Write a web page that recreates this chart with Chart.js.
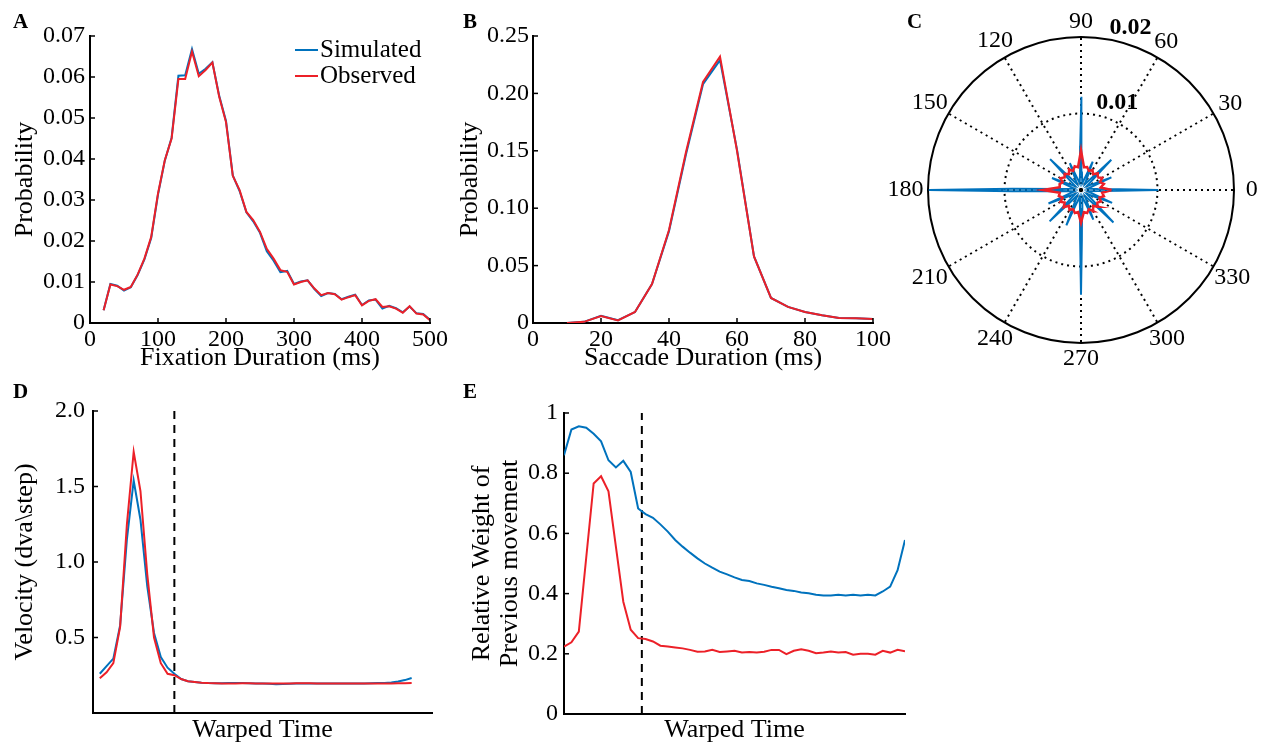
<!DOCTYPE html>
<html>
<head>
<meta charset="utf-8">
<script src="https://cdn.jsdelivr.net/npm/chart.js@4.4.1/dist/chart.umd.min.js"></script>
<style>
  body { margin: 0; background: #fff; }
  #wrap { position: relative; width: 1269px; height: 747px; overflow: hidden; }
  canvas { position: absolute; }
  .tag { position: absolute; font: bold 21px 'Liberation Serif', serif; line-height: 1; }
</style>
</head>
<body>
<div id="wrap">
  <canvas id="cA" width="450" height="372" style="left:0;top:0"></canvas>
  <canvas id="cB" width="450" height="372" style="left:450px;top:0"></canvas>
  <canvas id="cC" width="389" height="370" style="left:880px;top:0"></canvas>
  <canvas id="cD" width="450" height="377" style="left:0;top:370px"></canvas>
  <canvas id="cE" width="469" height="377" style="left:450px;top:370px"></canvas>
  <div class="tag" style="left:13px;top:11px">A</div>
  <div class="tag" style="left:463px;top:11px">B</div>
  <div class="tag" style="left:907px;top:11px">C</div>
  <div class="tag" style="left:13px;top:381px">D</div>
  <div class="tag" style="left:463px;top:381px">E</div>
</div>
<script>
// A: fixation durations
const fixX = [20,30,40,50,60,70,80,90,100,110,120,130,140,150,160,170,180,190,200,210,220,230,240,250,260,270,280,290,300,310,320,330,340,350,360,370,380,390,400,410,420,430,440,450,460,470,480,490,500];
const fixSim = [0.0031,0.0095,0.0091,0.0079,0.0087,0.0117,0.0155,0.0207,0.0313,0.0396,0.0452,0.0603,0.0604,0.0668,0.0608,0.0620,0.0636,0.0554,0.0493,0.0360,0.0322,0.0270,0.0248,0.0220,0.0175,0.0152,0.0124,0.0127,0.0095,0.0101,0.0104,0.0083,0.0066,0.0073,0.0071,0.0058,0.0064,0.0069,0.0044,0.0055,0.0057,0.0035,0.0042,0.0036,0.0026,0.0040,0.0024,0.0022,0.0008];
const fixObs = [0.0031,0.0094,0.0090,0.0081,0.0088,0.0118,0.0157,0.0210,0.0316,0.0397,0.0450,0.0595,0.0595,0.0662,0.0602,0.0617,0.0635,0.0552,0.0490,0.0359,0.0324,0.0271,0.0251,0.0222,0.0181,0.0157,0.0129,0.0125,0.0094,0.0100,0.0104,0.0084,0.0068,0.0073,0.0070,0.0057,0.0063,0.0068,0.0043,0.0054,0.0058,0.0039,0.0041,0.0035,0.0025,0.0041,0.0023,0.0021,0.0007];

// B: saccade durations
const sacX = [10,15,20,25,30,35,40,45,50,55,60,65,70,75,80,85,90,95,100];
const sacSim = [0.000,0.001,0.0062,0.0024,0.0095,0.034,0.080,0.147,0.208,0.229,0.151,0.058,0.0218,0.014,0.0096,0.0067,0.0044,0.0041,0.0035];
const sacObs = [0.000,0.001,0.0060,0.0023,0.0096,0.034,0.081,0.149,0.210,0.232,0.150,0.058,0.0218,0.014,0.0096,0.0067,0.0044,0.0041,0.0035];

// C: movement direction (degrees, probability)
const dirSimDeg = [0,1,3,11,19.5, 22.5,25.5,34,41.5, 45,48.5,56,64.5, 67.5,70.5,79,87,89, 90,91,93,101,109.5, 112.5,115.5,124,131.5, 135,138.5,146,154.5, 157.5,160.5,169,177,179, 180,181,183,191,199.5, 202.5,205.5,214,221.5, 225,228.5,236,244.5, 247.5,250.5,259,267,269, 270,271,273,281,289.5, 292.5,295.5,304,311.5, 315,318.5,326,334.5, 337.5,340.5,349,357,359];
const dirSimR = [0.0101,0.0050,0.0022,0.0009,0.0021, 0.0043,0.0021,0.0009,0.0022, 0.0056,0.0022,0.0009,0.0021, 0.0040,0.0021,0.0009,0.0023,0.0058, 0.0122,0.0058,0.0023,0.0009,0.0021, 0.0038,0.0021,0.0009,0.0022, 0.0057,0.0022,0.0009,0.0021, 0.0041,0.0021,0.0009,0.0026,0.0090, 0.0199,0.0090,0.0026,0.0009,0.0022, 0.0046,0.0022,0.0009,0.0022, 0.0058,0.0022,0.0009,0.0022, 0.0050,0.0022,0.0009,0.0025,0.0064, 0.0137,0.0064,0.0025,0.0009,0.0021, 0.0042,0.0021,0.0009,0.0022, 0.0060,0.0022,0.0009,0.0022, 0.0044,0.0022,0.0009,0.0023,0.0050];
const dirObsDeg = [0,7.5,15,22.5,30,37.5,45,52.5,60,67.5,75,82.5,90,97.5,105,112.5,120,127.5,135,142.5,150,157.5,165,172.5,180,187.5,195,202.5,210,217.5,225,232.5,240,247.5,255,262.5,270,277.5,285,292.5,300,307.5,315,322.5,330,337.5,345,352.5];
const dirObsR = [0.0040,0.0026,0.0031,0.0027,0.0032,0.0027,0.0031,0.0026,0.0030,0.0027,0.0031,0.0030,0.0052,0.0030,0.0032,0.0027,0.0031,0.0026,0.0030,0.0027,0.0031,0.0026,0.0029,0.0028,0.0050,0.0028,0.0030,0.0026,0.0031,0.0027,0.0032,0.0026,0.0030,0.0027,0.0031,0.0029,0.0043,0.0029,0.0031,0.0027,0.0032,0.0026,0.0031,0.0027,0.0030,0.0026,0.0031,0.0028];
const polarSpokes = [0,30,60,90,120,150,180,210,240,270,300,330];
const polarRings = [0.01, 0.02];

// D: velocity over warped time
const velSim = [0.26,0.31,0.36,0.58,1.15,1.54,1.28,0.84,0.53,0.37,0.30,0.26,0.225,0.21,0.205,0.200,0.198,0.197,0.197,0.198,0.199,0.198,0.197,0.196,0.195,0.193,0.190,0.192,0.194,0.195,0.195,0.195,0.196,0.196,0.196,0.196,0.196,0.196,0.196,0.196,0.197,0.198,0.199,0.202,0.208,0.218,0.232];
const velObs = [0.23,0.27,0.33,0.57,1.25,1.73,1.47,0.92,0.50,0.33,0.26,0.25,0.225,0.21,0.205,0.200,0.198,0.197,0.196,0.196,0.196,0.197,0.197,0.196,0.196,0.195,0.195,0.196,0.196,0.197,0.197,0.197,0.196,0.196,0.195,0.195,0.196,0.196,0.196,0.195,0.195,0.196,0.196,0.196,0.197,0.197,0.198];
const velOnset = 12;

// E: relative weight of previous movement
const wSim = [0.86,0.945,0.956,0.951,0.931,0.906,0.843,0.819,0.841,0.804,0.683,0.664,0.652,0.630,0.606,0.578,0.556,0.536,0.517,0.500,0.486,0.473,0.464,0.454,0.445,0.442,0.434,0.429,0.423,0.418,0.412,0.409,0.404,0.401,0.396,0.394,0.394,0.396,0.394,0.396,0.394,0.396,0.394,0.407,0.423,0.478,0.578];
const wObs = [0.224,0.238,0.274,0.52,0.766,0.79,0.74,0.556,0.373,0.28,0.252,0.249,0.241,0.227,0.224,0.221,0.218,0.213,0.207,0.208,0.213,0.206,0.208,0.210,0.204,0.206,0.204,0.207,0.213,0.213,0.199,0.210,0.215,0.210,0.202,0.204,0.208,0.204,0.206,0.197,0.200,0.200,0.197,0.210,0.204,0.213,0.208];
const wOnset = 11.5;

const SERIF = "'Liberation Serif', 'Times New Roman', serif";
const BLUE = 'rgb(0,114,189)';
const RED = 'rgb(236,32,40)';
const TITLE_FONT = {size: 26, lineHeight: 1.1};
Chart.defaults.font.family = SERIF;
Chart.defaults.font.size = 24;
Chart.defaults.color = '#000';

const pairs = (xs, ys) => xs.map((x, i) => ({x: x, y: ys[i]}));
const steps = arr => arr.map((_, i) => i + 1);

// MATLAB style ticks pointing into the plot
const inwardTicks = {
  id: 'inwardTicks',
  afterDatasetsDraw(chart) {
    const {ctx, chartArea: ca, scales} = chart;
    ctx.save();
    ctx.strokeStyle = '#000';
    ctx.lineWidth = 1.5;
    ['x', 'y'].forEach(k => {
      const s = scales[k];
      if (!s || !s.options.display || !s.options.ticks.display) return;
      s.ticks.forEach(t => {
        if (t.label === '') return;
        const p = s.getPixelForValue(t.value);
        ctx.beginPath();
        if (k === 'x') { ctx.moveTo(p, ca.bottom); ctx.lineTo(p, ca.bottom - 5); }
        else { ctx.moveTo(ca.left, p); ctx.lineTo(ca.left + 5, p); }
        ctx.stroke();
      });
    });
    ctx.restore();
  }
};

const cornerLegend = {
  id: 'cornerLegend',
  afterDatasetsDraw(chart) {
    const {ctx, chartArea: ca} = chart;
    ctx.save();
    ctx.font = '25px ' + SERIF;
    ctx.textBaseline = 'middle';
    ctx.fillStyle = '#000';
    ctx.lineWidth = 2;
    chart.data.datasets.forEach((ds, i) => {
      const y = ca.top + 14 + i * 26;
      ctx.strokeStyle = ds.borderColor;
      ctx.beginPath();
      ctx.moveTo(ca.right - 135, y);
      ctx.lineTo(ca.right - 112, y);
      ctx.stroke();
      ctx.fillText(ds.label, ca.right - 110, y);
    });
    ctx.restore();
  }
};

function yAxis(min, max, step, title, width, fmt, pad, tickPad) {
  return {
    type: 'linear', min: min, max: max,
    border: {display: true, color: '#000', width: 2},
    grid: {display: false, drawTicks: false},
    ticks: {stepSize: step, padding: tickPad, callback: fmt},
    title: {display: true, text: title, font: TITLE_FONT, padding: {top: pad, bottom: 0}},
    afterFit: s => { s.width = width; }
  };
}

function xAxis(min, max, step, title, height, showTicks, pad) {
  return {
    type: 'linear', min: min, max: max,
    border: {display: true, color: '#000', width: 2},
    grid: {display: false, drawTicks: false},
    ticks: {display: showTicks, stepSize: step, padding: 2, maxRotation: 0, autoSkip: false},
    title: {display: true, text: title, font: TITLE_FONT, padding: {top: 0, bottom: pad}},
    afterFit: s => { s.height = height; }
  };
}

function line(label, data, color, width) {
  return {label: label, data: data, borderColor: color, borderWidth: width || 2, pointRadius: 0, tension: 0, fill: false};
}

const baseOpts = {responsive: false, animation: false, events: [], plugins: {legend: {display: false}, tooltip: {enabled: false}}};

// A
new Chart(document.getElementById('cA'), {
  type: 'line',
  data: {datasets: [
    Object.assign(line('Simulated', pairs(fixX, fixSim), BLUE), {order: 1}),
    Object.assign(line('Observed', pairs(fixX, fixObs), RED), {order: 0})
  ]},
  options: Object.assign({}, baseOpts, {
    layout: {padding: {top: 36, right: 18, left: 0, bottom: 0}},
    scales: {
      x: xAxis(0, 500, 100, 'Fixation Duration (ms)', 49, true, 0),
      y: yAxis(0, 0.07, 0.01, 'Probability', 90, v => v === 0 ? '0' : v.toFixed(2), 10.7, 5)
    }
  }),
  plugins: [inwardTicks, cornerLegend]
});

// B
new Chart(document.getElementById('cB'), {
  type: 'line',
  data: {datasets: [
    Object.assign(line('Simulated', pairs(sacX, sacSim), BLUE), {order: 1}),
    Object.assign(line('Observed', pairs(sacX, sacObs), RED), {order: 0})
  ]},
  options: Object.assign({}, baseOpts, {
    layout: {padding: {top: 36, right: 27, left: 0, bottom: 0}},
    scales: {
      x: xAxis(0, 100, 20, 'Saccade Duration (ms)', 49, true, 0),
      y: yAxis(0, 0.25, 0.05, 'Probability', 83, v => v === 0 ? '0' : v.toFixed(2), 5.7, 4)
    }
  }),
  plugins: [inwardTicks]
});

// C: polar plot drawn on an equal-aspect scatter
const polarGrid = {
  id: 'polarGrid',
  beforeDatasetsDraw(chart) {
    const {ctx, scales: {x, y}} = chart;
    const cx = x.getPixelForValue(0), cy = y.getPixelForValue(0);
    const rmax = polarRings[polarRings.length - 1];
    const R = x.getPixelForValue(rmax) - cx;
    ctx.save();
    ctx.strokeStyle = '#000';
    ctx.lineWidth = 2;
    ctx.setLineDash([2, 4]);
    polarRings.slice(0, -1).forEach(v => {
      ctx.beginPath();
      ctx.arc(cx, cy, x.getPixelForValue(v) - cx, 0, 2 * Math.PI);
      ctx.stroke();
    });
    polarSpokes.forEach(a => {
      const t = a * Math.PI / 180;
      ctx.beginPath();
      ctx.moveTo(cx, cy);
      ctx.lineTo(cx + R * Math.cos(t), cy - R * Math.sin(t));
      ctx.stroke();
    });
    ctx.setLineDash([]);
    ctx.beginPath();
    ctx.arc(cx, cy, R, 0, 2 * Math.PI);
    ctx.stroke();

    ctx.fillStyle = '#000';
    ctx.font = '24px ' + SERIF;
    ctx.textAlign = 'center';
    ctx.textBaseline = 'middle';
    polarSpokes.forEach(a => {
      const t = a * Math.PI / 180;
      const w = ctx.measureText(String(a)).width;
      const rr = 1.1 * R + 0.2 * w * Math.abs(Math.cos(t));
      ctx.fillText(String(a), cx + rr * Math.cos(t), cy - rr * Math.sin(t));
    });
    ctx.font = 'bold 24px ' + SERIF;
    ctx.textAlign = 'left';
    ctx.textBaseline = 'bottom';
    const t80 = 80 * Math.PI / 180;
    polarRings.forEach(v => {
      const rr = x.getPixelForValue(v) - cx;
      ctx.fillText(String(v), cx + rr * Math.cos(t80) + 2, cy - rr * Math.sin(t80));
    });
    ctx.restore();
  }
};

function polarPts(deg, r) {
  const pts = deg.map((d, i) => ({x: r[i] * Math.cos(d * Math.PI / 180), y: r[i] * Math.sin(d * Math.PI / 180)}));
  pts.push(pts[0]);
  return pts;
}

const polarScale = {type: 'linear', min: -0.02, max: 0.02, display: false};
new Chart(document.getElementById('cC'), {
  type: 'scatter',
  data: {datasets: [
    Object.assign(line('Simulated', polarPts(dirSimDeg, dirSimR), BLUE, 2), {showLine: true, order: 1}),
    Object.assign(line('Observed', polarPts(dirObsDeg, dirObsR), RED, 2.5), {showLine: true, order: 0})
  ]},
  options: Object.assign({}, baseOpts, {
    layout: {padding: {left: 48, right: 35, top: 37, bottom: 27}},
    scales: {x: polarScale, y: polarScale}
  }),
  plugins: [polarGrid]
});

// D
new Chart(document.getElementById('cD'), {
  type: 'line',
  data: {datasets: [
    Object.assign(line('Simulated', pairs(steps(velSim), velSim), BLUE), {order: 1}),
    Object.assign(line('Observed', pairs(steps(velObs), velObs), RED), {order: 0}),
    Object.assign(line('', [{x: velOnset, y: 0}, {x: velOnset, y: 2}], '#000'), {borderDash: [8, 6], order: 2})
  ]},
  options: Object.assign({}, baseOpts, {
    layout: {padding: {top: 41, right: 18, left: 0, bottom: 0}},
    scales: {
      x: xAxis(0, 50, 10, 'Warped Time', 34, false, 2.7),
      y: yAxis(0, 2, 0.5, 'Velocity (dva\\step)', 93, v => v === 0 ? '' : v.toFixed(1), 10.7, 8)
    }
  }),
  plugins: [inwardTicks]
});

// E
new Chart(document.getElementById('cE'), {
  type: 'line',
  data: {datasets: [
    Object.assign(line('Simulated', pairs(steps(wSim), wSim), BLUE), {order: 1}),
    Object.assign(line('Observed', pairs(steps(wObs), wObs), RED), {order: 0}),
    Object.assign(line('', [{x: wOnset, y: 0}, {x: wOnset, y: 1}], '#000'), {borderDash: [8, 6], order: 2})
  ]},
  options: Object.assign({}, baseOpts, {
    layout: {padding: {top: 43, right: 14, left: 0, bottom: 0}},
    scales: {
      x: xAxis(1, 47, 5, 'Warped Time', 33, false, 2.7),
      y: yAxis(0, 1, 0.2, ['Relative Weight of', 'Previous movement'], 114, v => String(Number(v.toFixed(1))), 17.7, 6)
    }
  }),
  plugins: [inwardTicks]
});
</script>
</body>
</html>
